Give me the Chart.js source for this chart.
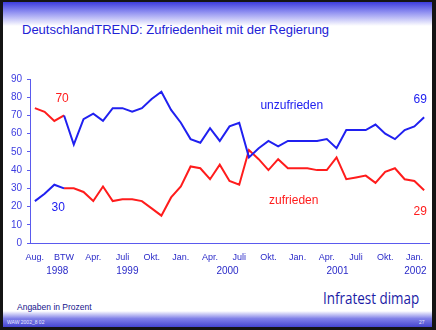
<!DOCTYPE html>
<html>
<head>
<meta charset="utf-8">
<script src="https://cdn.jsdelivr.net/npm/chart.js@4"></script>
<style>
  html, body { margin: 0; padding: 0; background: #fff; }
  #page { position: relative; width: 436px; height: 330px; overflow: hidden; background: #fff; }
  #page canvas { position: absolute; left: 0; top: 0; }
  .band-top { position: absolute; left: 0; top: 0; width: 436px; height: 26px;
              background: linear-gradient(#2c2cda, #8c8cf0 45%, #ffffff); }
  .band-bottom { position: absolute; left: 0; top: 311px; width: 436px; height: 19px;
                 background: linear-gradient(#ffffff, #8080e8 40%, #3030c8); }
  .frame { position: absolute; left: 0; top: 0; width: 436px; height: 330px; box-sizing: border-box;
           border-left: 3px solid #141414; border-right: 4px solid #141414;
           border-top: 2px solid #141414; border-bottom: 3px solid #141414; }
  .title { position: absolute; left: 22px; top: 22px; font: 13px "Liberation Sans", Arial, sans-serif; color: #2222d6; white-space: nowrap; }
  .note { position: absolute; left: 17px; top: 302px; font: 8.5px "Liberation Sans", Arial, sans-serif; color: #16168c; white-space: nowrap; }
  .brand { position: absolute; left: 323px; top: 287px; font: 16px "Open Sans", sans-serif; color: #1c1ca6; white-space: nowrap;
           transform: scaleX(0.84); transform-origin: 0 0; }
  .tiny { position: absolute; top: 319px; font: 5px "Liberation Sans", Arial, sans-serif; color: #e8e8ff; white-space: nowrap; }
</style>
</head>
<body>
<div id="page">
  <div class="band-top"></div>
  <div class="band-bottom"></div>
  <div class="title">DeutschlandTREND: Zufriedenheit mit der Regierung</div>
  <div class="note">Angaben in Prozent</div>
  <div class="brand">Infratest dimap</div>
  <div class="tiny" style="left:7px">WAW 2002_8 02</div>
  <div class="tiny" style="left:419px">27</div>
  <canvas id="chart" width="436" height="330"></canvas>
  <div class="frame"></div>
</div>
<script>
// x categories (one per survey), label only every third
const monthLabels = ['Aug.', '', '', 'BTW', '', '', 'Apr.', '', '', 'Juli', '', '', 'Okt.', '', '',
  'Jan.', '', '', 'Apr.', '', '', 'Juli', '', '', 'Okt.', '', '', 'Jan.', '', '',
  'Apr.', '', '', 'Juli', '', '', 'Okt.', '', '', 'Jan.', ''];

const yearLabels = ['1998', '1999', '2000', '2001', '2002'];
const yearIndex = [2.3, 9.5, 19.8, 31.1, 39.1];

// before the election (Aug 98 - BTW)
const redBefore = [74, 72, 67, 70];
const blueBefore = [23, 27, 32, 30];

// from the election on (BTW - Feb 02)
const unzufrieden = [70, 54, 68, 71, 67, 74, 74, 72, 74, 79, 83, 73, 66, 57, 55, 63, 56, 64, 66, 47,
  52, 56, 53, 56, 56, 56, 56, 57, 52, 62, 62, 62, 65, 60, 57, 62, 64, 69];
const zufrieden = [30, 30, 28, 23, 31, 23, 24, 24, 23, 19, 15, 25, 31, 42, 41, 35, 43, 34, 32, 51,
  46, 40, 46, 41, 41, 41, 40, 40, 47, 35, 36, 37, 33, 39, 41, 35, 34, 29];

const yTicks = [0, 10, 20, 30, 40, 50, 60, 70, 80, 90];

const BLUE = '#2020f0';
const RED = '#ff1c1c';
const AXIS = '#5a5aee';

const n = monthLabels.length;
const pad = (arr, start) => Array.from({ length: n }, (_, i) =>
  (i >= start && i - start < arr.length) ? arr[i - start] : null);

// text labels inside the plot, positioned in data coordinates
const notes = [
  { text: '70', x: 2.8, y: 79, color: RED },
  { text: '30', x: 2.4, y: 19.5, color: BLUE },
  { text: 'unzufrieden', x: 26.4, y: 75.5, color: BLUE },
  { text: 'zufrieden', x: 26.6, y: 23, color: RED },
  { text: '69', x: 39.6, y: 78.5, color: BLUE },
  { text: '29', x: 39.6, y: 17, color: RED },
];

const overlay = {
  id: 'overlay',
  afterDraw(chart) {
    const { ctx, scales: { x, y } } = chart;
    ctx.save();
    ctx.textAlign = 'center';
    ctx.textBaseline = 'middle';
    ctx.font = '12px "Liberation Sans", Arial, sans-serif';
    notes.forEach(nt => {
      ctx.fillStyle = nt.color;
      ctx.fillText(nt.text, x.getPixelForValue(nt.x), y.getPixelForValue(nt.y));
    });
    ctx.font = '10px "Liberation Sans", Arial, sans-serif';
    ctx.fillStyle = '#2a2ac8';
    yearLabels.forEach((yr, i) => {
      ctx.fillText(yr, x.getPixelForValue(yearIndex[i]), y.bottom + 28);
    });
    ctx.restore();
  }
};

const line = (data, color) => ({
  data: data,
  borderColor: color,
  borderWidth: 2,
  pointRadius: 0,
  tension: 0,
  fill: false,
});

new Chart(document.getElementById('chart'), {
  type: 'line',
  data: {
    labels: monthLabels,
    datasets: [
      line(pad(blueBefore, 0), BLUE),
      line(pad(unzufrieden, 3), BLUE),
      line(pad(redBefore, 0), RED),
      line(pad(zufrieden, 3), RED),
    ]
  },
  options: {
    responsive: false,
    animation: false,
    layout: { padding: { left: 0, right: 7, top: 79, bottom: 0 } },
    plugins: { legend: { display: false }, tooltip: { enabled: false } },
    scales: {
      x: {
        offset: true,
        grid: { display: false, drawTicks: false },
        border: { display: true, color: AXIS, width: 1 },
        ticks: {
          autoSkip: false, maxRotation: 0, padding: 9,
          color: '#2a2ac8',
          font: { family: '"Liberation Sans", Arial, sans-serif', size: 9 },
        },
        afterFit: (s) => { s.height = 87; },
      },
      y: {
        min: 0, max: 90,
        afterBuildTicks: (s) => { s.ticks = yTicks.map(v => ({ value: v })); },
        grid: { drawOnChartArea: false, drawTicks: true, tickLength: 3, color: AXIS },
        border: { display: true, color: AXIS, width: 1 },
        ticks: {
          padding: 5,
          color: '#3c3ce0',
          font: { family: '"Liberation Sans", Arial, sans-serif', size: 10 },
        },
        afterFit: (s) => { s.width = 30; },
      },
    },
  },
  plugins: [overlay],
});
</script>
</body>
</html>
